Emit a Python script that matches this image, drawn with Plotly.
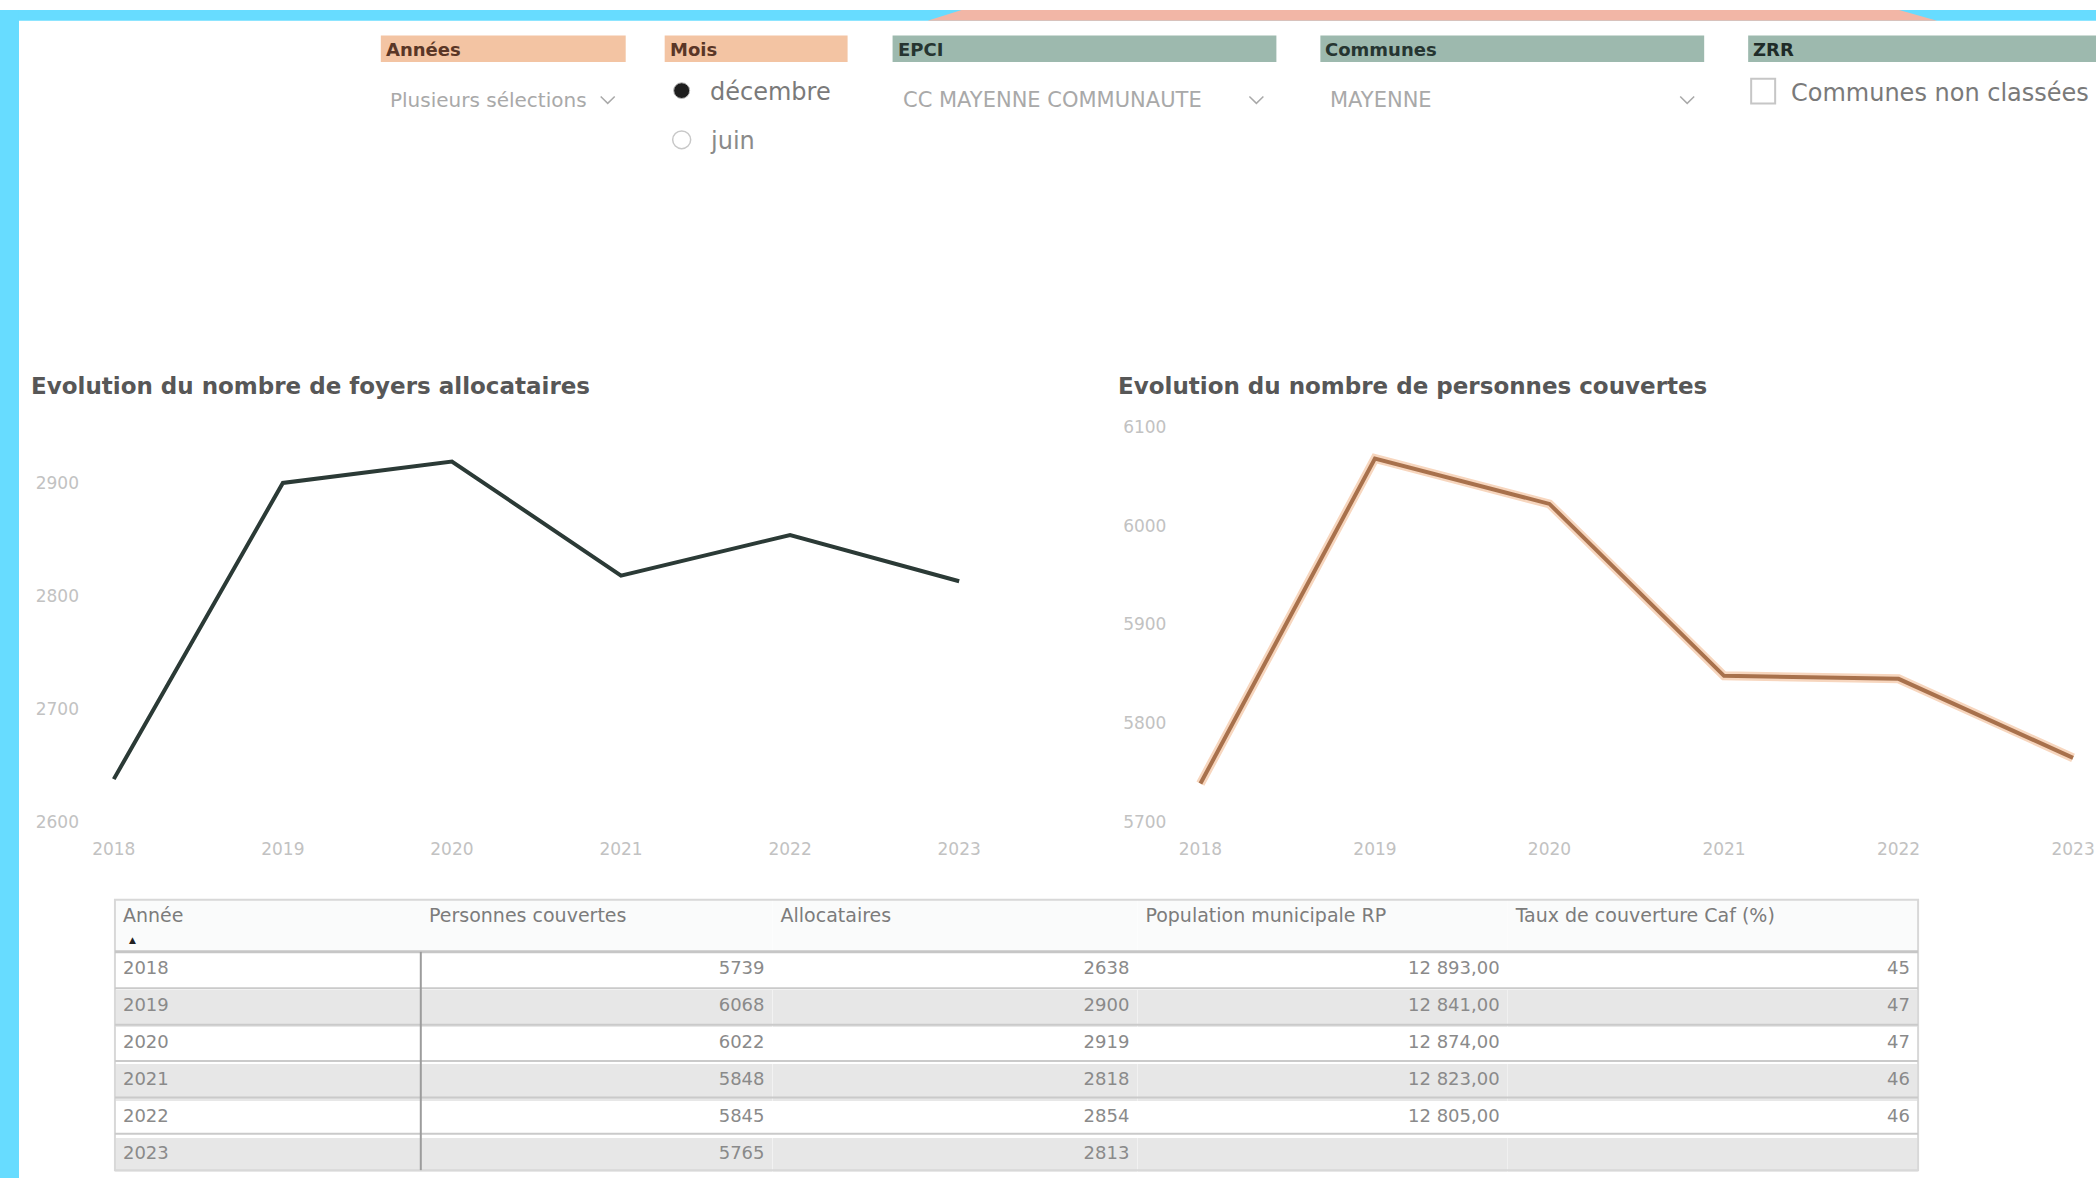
import plotly.graph_objects as go

W, H = 2097, 1188

# ---------------- data ----------------
annees = [2018, 2019, 2020, 2021, 2022, 2023]
allocataires = [2638, 2900, 2919, 2818, 2854, 2813]
personnes = [5739, 6068, 6022, 5848, 5845, 5765]
population = [12893, 12841, 12874, 12823, 12805, None]
taux = [45, 47, 47, 46, 46, None]
left_yticks = [2600, 2700, 2800, 2900]
right_yticks = [5700, 5800, 5900, 6000, 6100]
table_headers = ["Année", "Personnes couvertes", "Allocataires",
                 "Population municipale RP", "Taux de couverture Caf (%)"]
title_left = "Evolution du nombre de foyers allocataires"
title_right = "Evolution du nombre de personnes couvertes"

FONT = "DejaVu Sans"


def px(x):
    return x / W


def py(y):
    return 1 - y / H


fig = go.Figure()

# ---------------- line charts ----------------
fig.add_trace(go.Scatter(x=annees, y=allocataires, mode="lines",
                         line=dict(color="#2B3A36", width=4),
                         xaxis="x", yaxis="y", showlegend=False, hoverinfo="x+y"))
fig.add_trace(go.Scatter(x=annees, y=personnes, mode="lines",
                         line=dict(color="#F7D6BE", width=9),
                         xaxis="x2", yaxis="y2", showlegend=False, hoverinfo="skip"))
fig.add_trace(go.Scatter(x=annees, y=personnes, mode="lines",
                         line=dict(color="#A8714C", width=4),
                         xaxis="x2", yaxis="y2", showlegend=False, hoverinfo="x+y"))


def fmt_int(v):
    return "" if v is None else f"{v}"


def fmt_pop(v):
    return "" if v is None else f"{v:,.2f}".replace(",", " ").replace(".", ",")


row_fill = ["#FFFFFF" if i % 2 == 0 else "#E7E7E7" for i in range(len(annees))]

# table geometry
T_X0, T_X1, T_Y0 = 115, 1919, 905
HEAD_H, ROW_H = 53, 37
T_Y1 = T_Y0 + HEAD_H + ROW_H * len(annees)

fig.add_trace(go.Table(
    domain=dict(x=[px(T_X0), px(T_X1)], y=[py(T_Y1 + 2), py(T_Y0)]),
    columnwidth=[229, 263, 273, 277, 307],
    header=dict(
        values=table_headers,
        align="left",
        fill_color="#FAFBFB",
        line=dict(color="rgba(0,0,0,0)", width=0),
        font=dict(family=FONT, size=19, color="#7C7C7C"),
        height=HEAD_H,
    ),
    cells=dict(
        values=[[str(a) for a in annees],
                [fmt_int(v) for v in personnes],
                [fmt_int(v) for v in allocataires],
                [fmt_pop(v) for v in population],
                [fmt_int(v) for v in taux]],
        align=["left", "right", "right", "right", "right"],
        fill_color=[row_fill] * 5,
        line=dict(color="rgba(0,0,0,0)", width=0),
        font=dict(family=FONT, size=18, color="#8A8A8A"),
        height=ROW_H,
    ),
))

axis_common = dict(showgrid=False, zeroline=False, showline=False,
                   tickfont=dict(family=FONT, size=17, color="#C2C2C2"), fixedrange=True)
xaxis_extra = dict(ticks="outside", ticklen=12, tickcolor="rgba(0,0,0,0)")
yaxis_extra = dict(ticks="")

fig.update_layout(
    width=W, height=H,
    margin=dict(l=0, r=0, t=0, b=0),
    paper_bgcolor="white", plot_bgcolor="rgba(0,0,0,0)",
    font=dict(family=FONT),
    xaxis=dict(domain=[px(80), px(985)], range=[2017.8, 2023.15],
               tickvals=annees, anchor="y", **axis_common, **xaxis_extra),
    yaxis=dict(domain=[py(826), py(440)], range=[2600, 2935.7],
               tickvals=left_yticks, anchor="x", **axis_common, **yaxis_extra),
    xaxis2=dict(domain=[px(1168), px(2095)], range=[2017.811, 2023.12],
                tickvals=annees, anchor="y2", **axis_common, **xaxis_extra),
    yaxis2=dict(domain=[py(826), py(424)], range=[5700, 6100],
                tickvals=right_yticks, anchor="x2", **axis_common, **yaxis_extra),
)

shapes = []
ann = []

# frame
shapes.append(dict(type="rect", xref="paper", yref="paper", x0=0, x1=1, y0=py(11), y1=1,
                   fillcolor="#67DCFF", line=dict(width=0), layer="above"))
shapes.append(dict(type="path", xref="paper", yref="paper",
                   path=f"M {px(928)},{py(11)} L {px(962)},{py(0)} L {px(1900)},{py(0)} L {px(1938)},{py(11)} Z",
                   fillcolor="#F2B6A6", line=dict(width=0), layer="above"))
shapes.append(dict(type="rect", xref="paper", yref="paper", x0=0, x1=px(19), y0=0, y1=1,
                   fillcolor="#67DCFF", line=dict(width=0), layer="above"))

# slicer header bars
bars = [("Années", 381, 626, "#F3C4A3", "#5A3626"),
        ("Mois", 665, 848, "#F3C4A3", "#5A3626"),
        ("EPCI", 893, 1277, "#9DB9AE", "#263531"),
        ("Communes", 1321, 1705, "#9DB9AE", "#263531"),
        ("ZRR", 1749, 2097, "#9DB9AE", "#1E2B28")]
for label, x0, x1, fill, tc in bars:
    shapes.append(dict(type="rect", xref="paper", yref="paper", x0=px(x0), x1=px(x1),
                       y0=py(53), y1=py(26), fillcolor=fill, line=dict(width=0)))
    ann.append(dict(x=px(x0 + 3), y=py(40), xref="paper", yref="paper", xanchor="left",
                    yanchor="middle", showarrow=False, text=f"<b>{label}</b>",
                    font=dict(family=FONT, size=18, color=tc)))

# dropdown slicers
for txt, x0, chev, size in [("Plusieurs sélections", 388, 608, 20),
                            ("CC MAYENNE COMMUNAUTE", 901, 1257, 21),
                            ("MAYENNE", 1329, 1688, 21)]:
    ann.append(dict(x=px(x0), y=py(92), xref="paper", yref="paper", xanchor="left",
                    yanchor="middle", showarrow=False, text=txt,
                    font=dict(family=FONT, size=size, color="#A9A9A9")))
    shapes.append(dict(type="path", xref="paper", yref="paper",
                       path=f"M {px(chev-7)},{py(88)} L {px(chev)},{py(95)} L {px(chev+7)},{py(88)}",
                       line=dict(color="#A9A9A9", width=1.5)))

# radio buttons
shapes.append(dict(type="circle", xref="paper", yref="paper", x0=px(674), x1=px(690),
                   y0=py(90), y1=py(74), fillcolor="#1E1E1E", line=dict(color="#BDBDBD", width=1)))
shapes.append(dict(type="circle", xref="paper", yref="paper", x0=px(673), x1=px(691),
                   y0=py(141), y1=py(123), fillcolor="white", line=dict(color="#C8C8C8", width=1.5)))
ann.append(dict(x=px(708), y=py(83), xref="paper", yref="paper", xanchor="left", yanchor="middle",
                showarrow=False, text="décembre", font=dict(family=FONT, size=24, color="#7A7A7A")))
ann.append(dict(x=px(708), y=py(133), xref="paper", yref="paper", xanchor="left", yanchor="middle",
                showarrow=False, text="juin", font=dict(family=FONT, size=24, color="#8A8A8A")))

# checkbox
shapes.append(dict(type="rect", xref="paper", yref="paper", x0=px(1752), x1=px(1776),
                   y0=py(95), y1=py(70), fillcolor="white", line=dict(color="#C6C6C6", width=2)))
ann.append(dict(x=px(1790), y=py(84), xref="paper", yref="paper", xanchor="left", yanchor="middle",
                showarrow=False, text="Communes non classées",
                font=dict(family=FONT, size=24, color="#7A7A7A")))

# chart titles
ann.append(dict(x=px(29), y=py(382), xref="paper", yref="paper", xanchor="left", yanchor="middle",
                showarrow=False, text=f"<b>{title_left}</b>",
                font=dict(family=FONT, size=23, color="#575757")))
ann.append(dict(x=px(1117), y=py(382), xref="paper", yref="paper", xanchor="left", yanchor="middle",
                showarrow=False, text=f"<b>{title_right}</b>",
                font=dict(family=FONT, size=23, color="#575757")))

# sort indicator under "Année"
ann.append(dict(x=px(133), y=py(946), xref="paper", yref="paper", xanchor="center", yanchor="middle",
                showarrow=False, text="▲", font=dict(family=FONT, size=9, color="#222222")))

# table rules (decoration): outer frame, header rule, row separators, first-column rule
shapes.append(dict(type="rect", xref="paper", yref="paper", x0=px(T_X0), x1=px(T_X1),
                   y0=py(T_Y1), y1=py(T_Y0), line=dict(color="#D8D8D8", width=2), layer="above"))
shapes.append(dict(type="line", xref="paper", yref="paper", x0=px(T_X0), x1=px(T_X1),
                   y0=py(T_Y0 + HEAD_H), y1=py(T_Y0 + HEAD_H),
                   line=dict(color="#C6C6C6", width=3), layer="above"))
for k in range(1, len(annees)):
    yk = T_Y0 + HEAD_H + ROW_H * k
    shapes.append(dict(type="line", xref="paper", yref="paper", x0=px(T_X0), x1=px(T_X1),
                       y0=py(yk), y1=py(yk), line=dict(color="#CACACA", width=2), layer="above"))
shapes.append(dict(type="line", xref="paper", yref="paper", x0=px(421), x1=px(421),
                   y0=py(T_Y1), y1=py(T_Y0 + HEAD_H), line=dict(color="#9C9C9C", width=2),
                   layer="above"))

fig.update_layout(shapes=shapes, annotations=ann)

fig.write_html("out.html", config={"displayModeBar": False},
               post_script="document.body.style.margin='0';document.body.style.overflow='hidden';")
